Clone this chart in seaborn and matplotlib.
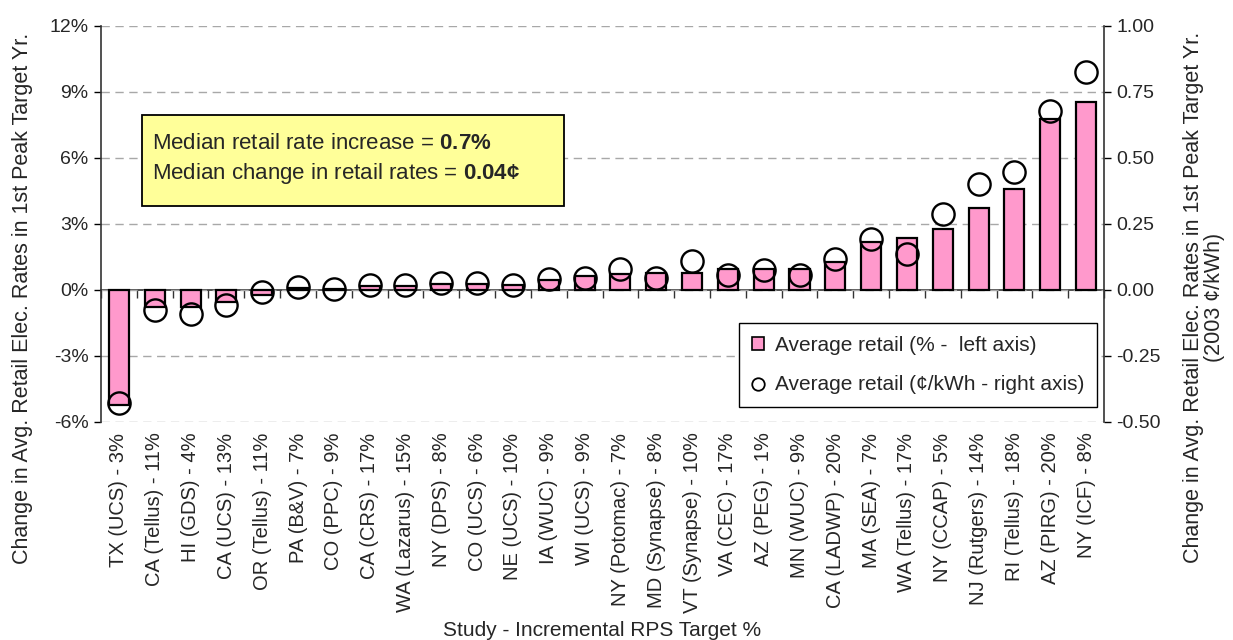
import numpy as np
import pandas as pd
import matplotlib
matplotlib.use("Agg")
import matplotlib.pyplot as plt
import matplotlib.ticker as mticker
from matplotlib.patches import Patch, Rectangle
from matplotlib.lines import Line2D
import seaborn as sns

studies = ["TX (UCS) - 3%", "CA (Tellus) - 11%", "HI (GDS) - 4%", "CA (UCS) - 13%",
           "OR (Tellus) - 11%", "PA (B&V) - 7%", "CO (PPC) - 9%", "CA (CRS) - 17%",
           "WA (Lazarus) - 15%", "NY (DPS) - 8%", "CO (UCS) - 6%", "NE (UCS) - 10%",
           "IA (WUC) - 9%", "WI (UCS) - 9%", "NY (Potomac) - 7%", "MD (Synapse) - 8%",
           "VT (Synapse) - 10%", "VA (CEC) - 17%", "AZ (PEG) - 1%", "MN (WUC) - 9%",
           "CA (LADWP) - 20%", "MA (SEA) - 7%", "WA (Tellus) - 17%", "NY (CCAP) - 5%",
           "NJ (Rutgers) - 14%", "RI (Tellus) - 18%", "AZ (PIRG) - 20%", "NY (ICF) - 8%"]
pct_change = [-5.25, -0.79, -0.79, -0.56, -0.23, 0.07, 0.05, 0.15, 0.15, 0.26,
              0.26, 0.19, 0.46, 0.61, 0.73, 0.76, 0.78, 0.93, 0.93, 0.93,
              1.26, 2.18, 2.33, 2.74, 3.70, 4.58, 7.76, 8.55]
cents_change = [-0.429, -0.079, -0.091, -0.057, -0.010, 0.010, 0.004, 0.018, 0.018, 0.024,
                0.024, 0.017, 0.042, 0.046, 0.077, 0.046, 0.109, 0.055, 0.076, 0.057,
                0.115, 0.193, 0.137, 0.287, 0.401, 0.448, 0.678, 0.825]
left_ticks = [-6, -3, 0, 3, 6, 9, 12]
right_ticks = [-0.50, -0.25, 0.00, 0.25, 0.50, 0.75, 1.00]

df = pd.DataFrame({"study": studies, "pct": pct_change, "cents": cents_change})

sns.set_theme(style="white")
plt.rcParams["font.family"] = ["Liberation Sans", "DejaVu Sans"]
plt.rcParams["mathtext.fontset"] = "custom"
plt.rcParams["mathtext.rm"] = "Liberation Sans"
plt.rcParams["mathtext.bf"] = "Liberation Sans:bold"

W, H = 1233, 640
fig = plt.figure(figsize=(W / 100, H / 100), dpi=100)
ax = fig.add_axes([101 / W, 1 - 421.5 / H, 1003 / W, 395.5 / H])

pink = "#FF99CC"
sns.barplot(data=df, x="study", y="pct", ax=ax, color=pink, width=0.56,
            edgecolor="black", linewidth=1.6, saturation=1, zorder=2)
ax.set_ylim(left_ticks[0], left_ticks[-1])
ax.set_xlim(-0.5, len(studies) - 0.5)
ax.set_yticks(left_ticks)
ax.yaxis.set_major_formatter(mticker.FuncFormatter(lambda v, p: f"{v:.0f}%"))
ax.grid(axis="y", color="#A8A8A8", linestyle=(0, (6, 4)), linewidth=1.0, zorder=0)
ax.set_axisbelow(True)
ax.set_xlabel("")
ax.set_ylabel("")
ax.tick_params(axis="x", length=0, labelsize=14.5, rotation=90, pad=8)
ax.tick_params(axis="y", length=5, width=1, direction="out", labelsize=14, left=True, color="black", pad=4)
for s in ["top", "right", "bottom"]:
    ax.spines[s].set_visible(False)
ax.spines["left"].set_color("#333333")
ax.spines["left"].set_linewidth(1.2)
for lbl in ax.get_xticklabels():
    lbl.set_va("top")
    lbl.set_ha("center")

# category axis line at zero with boundary ticks
zero_frac = (0 - left_ticks[0]) / (left_ticks[-1] - left_ticks[0])
sec = ax.secondary_xaxis(zero_frac)
sec.set_xticks(np.arange(len(studies) + 1) - 0.5)
sec.set_xticklabels([])
sec.tick_params(axis="x", direction="out", length=6, width=1, color="#333333")
sec.spines["bottom"].set_color("#333333")
sec.spines["bottom"].set_linewidth(1.2)

ax2 = ax.twinx()
sns.pointplot(data=df, x="study", y="cents", ax=ax2, linestyle="none", marker="o",
              markersize=16, markerfacecolor="none", markeredgecolor="black",
              markeredgewidth=1.7, color="black", errorbar=None, zorder=5)
ax2.set_ylim(right_ticks[0], right_ticks[-1])
ax2.set_xlim(-0.5, len(studies) - 0.5)
ax2.set_yticks(right_ticks)
ax2.yaxis.set_major_formatter(mticker.FuncFormatter(lambda v, p: f"{v:.2f}"))
ax2.set_ylabel("")
ax2.set_xlabel("")
ax2.grid(False)
ax2.tick_params(axis="y", length=5, width=1, direction="out", labelsize=14, right=True, color="black", pad=4)
for s in ["top", "left", "bottom"]:
    ax2.spines[s].set_visible(False)
ax2.spines["right"].set_color("#333333")
ax2.spines["right"].set_linewidth(1.2)

# axis titles
fig.text(23 / W, 1 - 298 / H, "Change in Avg. Retail Elec. Rates in 1st Peak Target Yr.",
         rotation=90, ha="center", va="center", fontsize=15.5)
fig.text(1204 / W, 1 - 297 / H,
         "Change in Avg. Retail Elec. Rates in 1st Peak Target Yr.\n(2003 \u00a2/kWh)",
         rotation=90, ha="center", va="center", fontsize=15.5, multialignment="center",
         linespacing=1.0)
fig.text(602 / W, 1 - 630 / H, "Study - Incremental RPS Target %",
         ha="center", va="center", fontsize=15)

# median annotation box
ax.add_patch(Rectangle((0.0406, 0.545), 0.421, 0.230, transform=ax.transAxes,
                       facecolor="#FFFF99", edgecolor="black", linewidth=1.3, zorder=6))
ax.text(0.0506, 0.703, r"Median retail rate increase = $\mathbf{0.7\%}$",
        transform=ax.transAxes, ha="left", va="center", fontsize=16, zorder=7)
ax.text(0.0506, 0.628, r"Median change in retail rates = $\mathbf{0.04¢}$",
        transform=ax.transAxes, ha="left", va="center", fontsize=16, zorder=7)

handles = [Patch(facecolor=pink, edgecolor="black", linewidth=1.2),
           Line2D([], [], linestyle="none", marker="o", markersize=9,
                  markerfacecolor="white", markeredgecolor="black", markeredgewidth=1.3)]
leg = ax2.legend(handles, ["Average retail (% -  left axis)",
                           "Average retail (\u00a2/kWh - right axis)"],
                 loc="lower right", bbox_to_anchor=((1096.7 - 101) / 1003, (421.5 - 407) / 395.5),
                 fontsize=15, frameon=True, fancybox=False, edgecolor="black", framealpha=1,
                 labelspacing=1.0, handlelength=0.6, handleheight=0.6,
                 handletextpad=0.5, borderpad=0.6, borderaxespad=0)
leg.get_frame().set_linewidth(1.0)

fig.savefig("out.png", dpi=100)
